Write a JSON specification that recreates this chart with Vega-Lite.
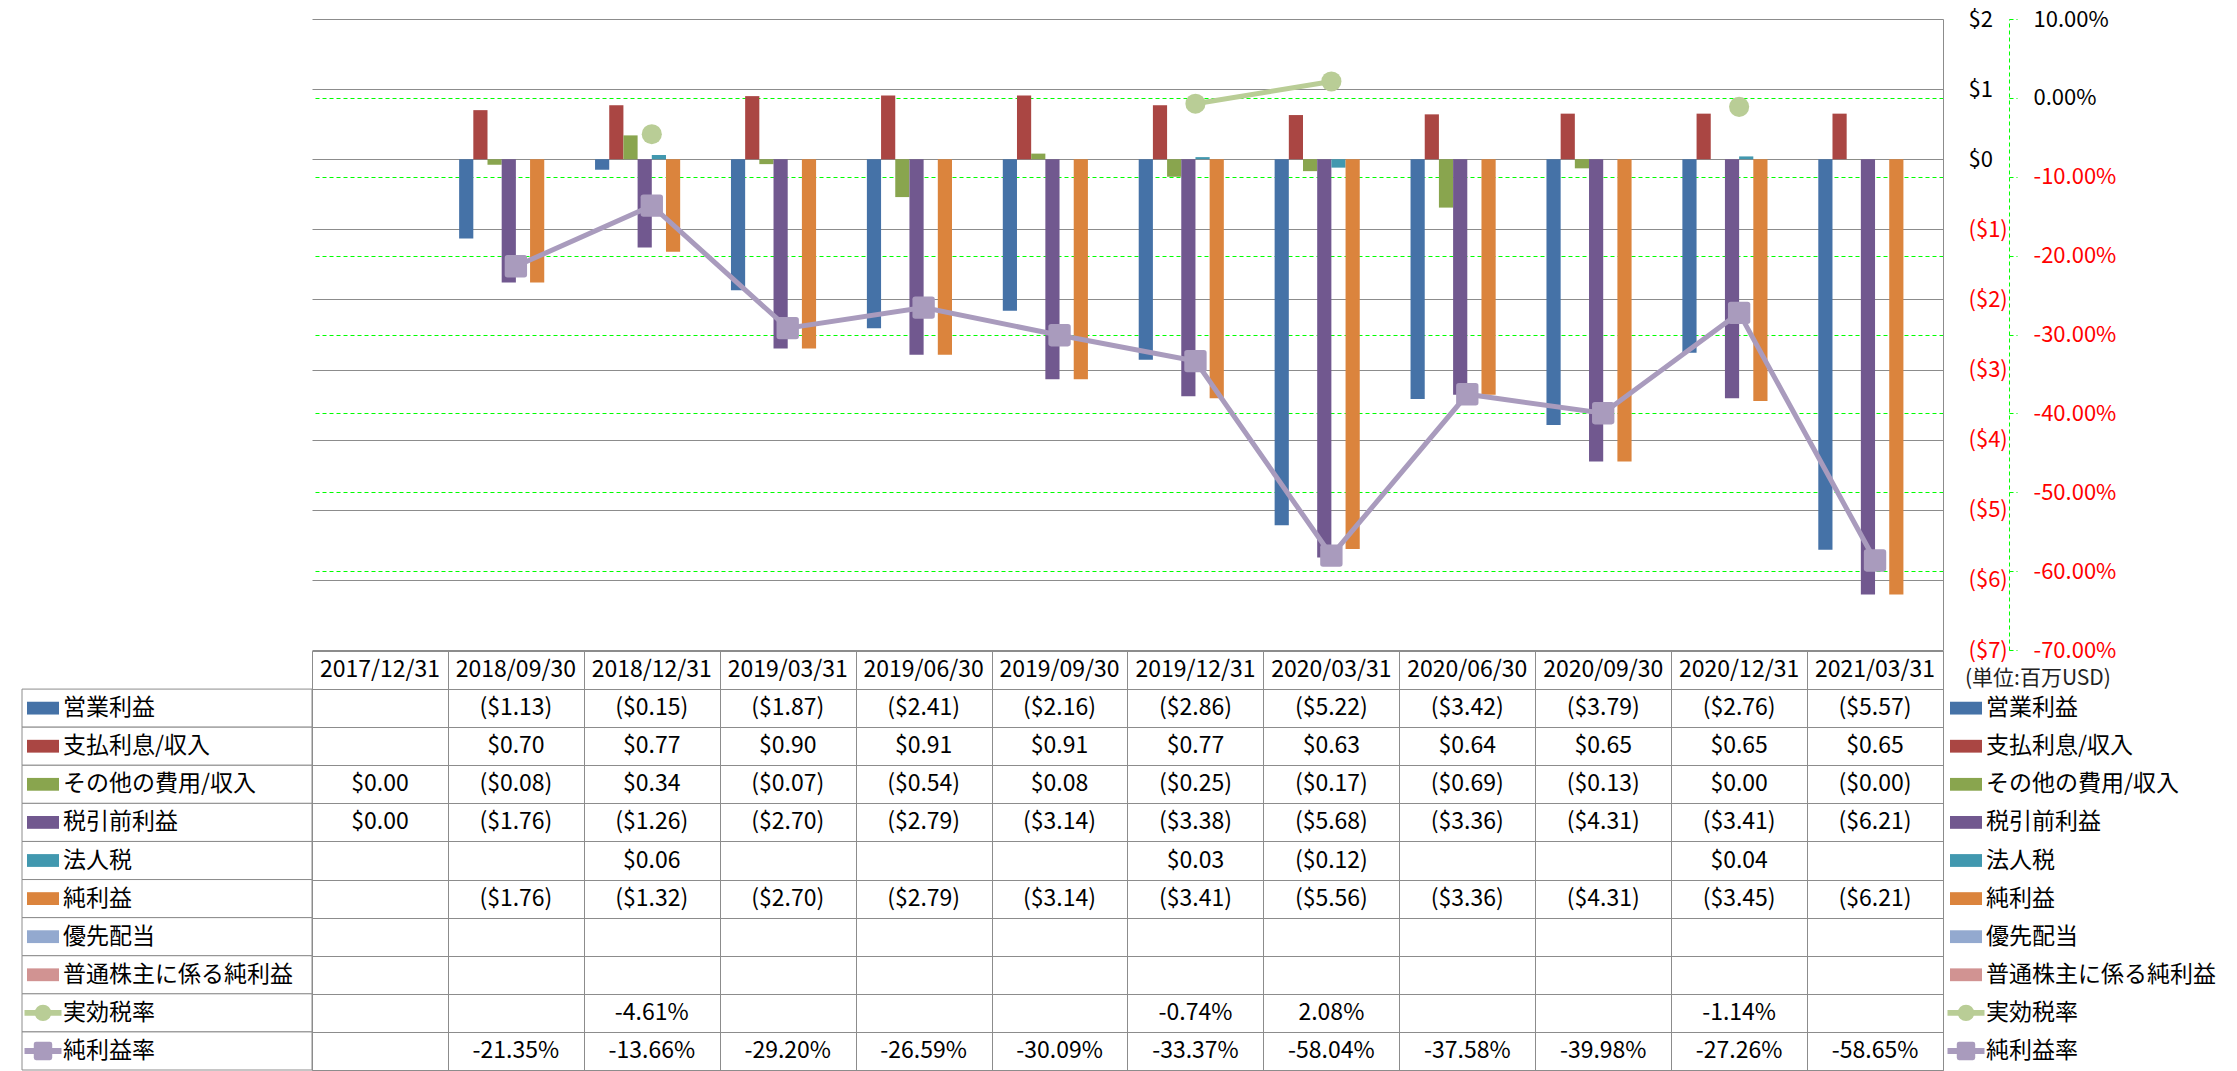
{
  "$schema": "https://vega.github.io/schema/vega-lite/v6.json",
  "padding": {"left": 21, "top": 8, "right": 0, "bottom": 0},
  "background": "white",
  "config": {
    "font": "Noto Sans CJK JP",
    "view": {"stroke": null},
    "axis": {"labelFont": "Noto Sans CJK JP"},
    "text": {"font": "Noto Sans CJK JP"}
  },
  "datasets": {
    "main": [
      {"date": "2017/12/31", "series": "その他の費用/収入", "value": 0},
      {"date": "2017/12/31", "series": "税引前利益", "value": 0},
      {"date": "2018/09/30", "series": "営業利益", "value": -1.13},
      {"date": "2018/09/30", "series": "支払利息/収入", "value": 0.70},
      {"date": "2018/09/30", "series": "その他の費用/収入", "value": -0.08},
      {"date": "2018/09/30", "series": "税引前利益", "value": -1.76},
      {"date": "2018/09/30", "series": "純利益", "value": -1.76},
      {"date": "2018/09/30", "series": "純利益率", "value": -0.2135},
      {"date": "2018/12/31", "series": "営業利益", "value": -0.15},
      {"date": "2018/12/31", "series": "支払利息/収入", "value": 0.77},
      {"date": "2018/12/31", "series": "その他の費用/収入", "value": 0.34},
      {"date": "2018/12/31", "series": "税引前利益", "value": -1.26},
      {"date": "2018/12/31", "series": "法人税", "value": 0.06},
      {"date": "2018/12/31", "series": "純利益", "value": -1.32},
      {"date": "2018/12/31", "series": "実効税率", "value": -0.0461},
      {"date": "2018/12/31", "series": "純利益率", "value": -0.1366},
      {"date": "2019/03/31", "series": "営業利益", "value": -1.87},
      {"date": "2019/03/31", "series": "支払利息/収入", "value": 0.90},
      {"date": "2019/03/31", "series": "その他の費用/収入", "value": -0.07},
      {"date": "2019/03/31", "series": "税引前利益", "value": -2.70},
      {"date": "2019/03/31", "series": "純利益", "value": -2.70},
      {"date": "2019/03/31", "series": "実効税率", "value": null},
      {"date": "2019/03/31", "series": "純利益率", "value": -0.2920},
      {"date": "2019/06/30", "series": "営業利益", "value": -2.41},
      {"date": "2019/06/30", "series": "支払利息/収入", "value": 0.91},
      {"date": "2019/06/30", "series": "その他の費用/収入", "value": -0.54},
      {"date": "2019/06/30", "series": "税引前利益", "value": -2.79},
      {"date": "2019/06/30", "series": "純利益", "value": -2.79},
      {"date": "2019/06/30", "series": "実効税率", "value": null},
      {"date": "2019/06/30", "series": "純利益率", "value": -0.2659},
      {"date": "2019/09/30", "series": "営業利益", "value": -2.16},
      {"date": "2019/09/30", "series": "支払利息/収入", "value": 0.91},
      {"date": "2019/09/30", "series": "その他の費用/収入", "value": 0.08},
      {"date": "2019/09/30", "series": "税引前利益", "value": -3.14},
      {"date": "2019/09/30", "series": "純利益", "value": -3.14},
      {"date": "2019/09/30", "series": "実効税率", "value": null},
      {"date": "2019/09/30", "series": "純利益率", "value": -0.3009},
      {"date": "2019/12/31", "series": "営業利益", "value": -2.86},
      {"date": "2019/12/31", "series": "支払利息/収入", "value": 0.77},
      {"date": "2019/12/31", "series": "その他の費用/収入", "value": -0.25},
      {"date": "2019/12/31", "series": "税引前利益", "value": -3.38},
      {"date": "2019/12/31", "series": "法人税", "value": 0.03},
      {"date": "2019/12/31", "series": "純利益", "value": -3.41},
      {"date": "2019/12/31", "series": "実効税率", "value": -0.0074},
      {"date": "2019/12/31", "series": "純利益率", "value": -0.3337},
      {"date": "2020/03/31", "series": "営業利益", "value": -5.22},
      {"date": "2020/03/31", "series": "支払利息/収入", "value": 0.63},
      {"date": "2020/03/31", "series": "その他の費用/収入", "value": -0.17},
      {"date": "2020/03/31", "series": "税引前利益", "value": -5.68},
      {"date": "2020/03/31", "series": "法人税", "value": -0.12},
      {"date": "2020/03/31", "series": "純利益", "value": -5.56},
      {"date": "2020/03/31", "series": "実効税率", "value": 0.0208},
      {"date": "2020/03/31", "series": "純利益率", "value": -0.5804},
      {"date": "2020/06/30", "series": "営業利益", "value": -3.42},
      {"date": "2020/06/30", "series": "支払利息/収入", "value": 0.64},
      {"date": "2020/06/30", "series": "その他の費用/収入", "value": -0.69},
      {"date": "2020/06/30", "series": "税引前利益", "value": -3.36},
      {"date": "2020/06/30", "series": "純利益", "value": -3.36},
      {"date": "2020/06/30", "series": "実効税率", "value": null},
      {"date": "2020/06/30", "series": "純利益率", "value": -0.3758},
      {"date": "2020/09/30", "series": "営業利益", "value": -3.79},
      {"date": "2020/09/30", "series": "支払利息/収入", "value": 0.65},
      {"date": "2020/09/30", "series": "その他の費用/収入", "value": -0.13},
      {"date": "2020/09/30", "series": "税引前利益", "value": -4.31},
      {"date": "2020/09/30", "series": "純利益", "value": -4.31},
      {"date": "2020/09/30", "series": "実効税率", "value": null},
      {"date": "2020/09/30", "series": "純利益率", "value": -0.3998},
      {"date": "2020/12/31", "series": "営業利益", "value": -2.76},
      {"date": "2020/12/31", "series": "支払利息/収入", "value": 0.65},
      {"date": "2020/12/31", "series": "その他の費用/収入", "value": 0.0},
      {"date": "2020/12/31", "series": "税引前利益", "value": -3.41},
      {"date": "2020/12/31", "series": "法人税", "value": 0.04},
      {"date": "2020/12/31", "series": "純利益", "value": -3.45},
      {"date": "2020/12/31", "series": "実効税率", "value": -0.0114},
      {"date": "2020/12/31", "series": "純利益率", "value": -0.2726},
      {"date": "2021/03/31", "series": "営業利益", "value": -5.57},
      {"date": "2021/03/31", "series": "支払利息/収入", "value": 0.65},
      {"date": "2021/03/31", "series": "その他の費用/収入", "value": -0.001},
      {"date": "2021/03/31", "series": "税引前利益", "value": -6.21},
      {"date": "2021/03/31", "series": "純利益", "value": -6.21},
      {"date": "2021/03/31", "series": "純利益率", "value": -0.5865}
    ],
    "rows": [
      {"series": "営業利益"}, {"series": "支払利息/収入"}, {"series": "その他の費用/収入"}, {"series": "税引前利益"}, {"series": "法人税"},
      {"series": "純利益"}, {"series": "優先配当"}, {"series": "普通株主に係る純利益"}, {"series": "実効税率"}, {"series": "純利益率"}
    ],
    "dates": [
      {"date": "2017/12/31"}, {"date": "2018/09/30"}, {"date": "2018/12/31"}, {"date": "2019/03/31"}, {"date": "2019/06/30"}, {"date": "2019/09/30"},
      {"date": "2019/12/31"}, {"date": "2020/03/31"}, {"date": "2020/06/30"}, {"date": "2020/09/30"}, {"date": "2020/12/31"}, {"date": "2021/03/31"}
    ]
  },
  "bounds": "flush",
  "align": "each",
  "columns": 3,
  "spacing": {"row": 1, "column": 0},
  "concat": [
    {"width": 290, "height": 631, "data": {"values": []}, "mark": "point"},
    {
      "width": 1631,
      "height": 631,
      "layer": [
        {
          "data": {"name": "main"},
          "transform": [
            {"filter": {"field": "series", "oneOf": ["営業利益", "支払利息/収入", "その他の費用/収入", "税引前利益", "法人税", "純利益"]}},
            {"filter": "datum.value != null"}
          ],
          "mark": {"type": "bar"},
          "encoding": {
            "x": {"field": "date", "type": "nominal", "axis": null,
              "scale": {"type": "band", "domain": ["2017/12/31", "2018/09/30", "2018/12/31", "2019/03/31", "2019/06/30", "2019/09/30", "2019/12/31", "2020/03/31", "2020/06/30", "2020/09/30", "2020/12/31", "2021/03/31"], "paddingInner": 0.165, "paddingOuter": 0.0825}},
            "xOffset": {"field": "series", "type": "nominal",
              "scale": {"domain": ["営業利益", "支払利息/収入", "その他の費用/収入", "税引前利益", "法人税", "純利益", "優先配当", "普通株主に係る純利益"], "paddingInner": 0, "paddingOuter": 0}},
            "y": {"field": "value", "type": "quantitative",
              "scale": {"domain": [-7, 2], "nice": false, "zero": false},
              "axis": {
                "orient": "right", "title": null,
                "values": [-7, -6, -5, -4, -3, -2, -1, 0, 1, 2],
                "grid": true, "gridColor": "#8c8c8c", "gridWidth": 1,
                "domain": true, "domainColor": "#8c8c8c", "domainWidth": 1,
                "ticks": false, "tickSize": 0,
                "labelPadding": 25, "labelAlign": "left", "labelBaseline": "middle",
                "labelFontSize": 22, "labelFlush": false, "labelOverlap": false,
                "labelExpr": "datum.value < 0 ? '($' + format(-datum.value, 'd') + ')' : '$' + format(datum.value, 'd')",
                "labelColor": {"condition": {"test": "datum.value < 0", "value": "#ff0000"}, "value": "#000000"}
              }},
            "color": {"field": "series", "type": "nominal", "legend": null,
              "scale": {"domain": ["営業利益", "支払利息/収入", "その他の費用/収入", "税引前利益", "法人税", "純利益", "優先配当", "普通株主に係る純利益", "実効税率", "純利益率"],
                "range": ["#4572A7", "#AA4643", "#89A54E", "#71588F", "#4198AF", "#DB843D", "#93A9CF", "#D19392", "#B9CD96", "#A99BBD"]}}
          }
        },
        {
          "data": {"name": "main"},
          "encoding": {
            "x": {"field": "date", "type": "nominal", "axis": null, "bandPosition": 0.5,
              "scale": {"type": "band", "domain": ["2017/12/31", "2018/09/30", "2018/12/31", "2019/03/31", "2019/06/30", "2019/09/30", "2019/12/31", "2020/03/31", "2020/06/30", "2020/09/30", "2020/12/31", "2021/03/31"], "paddingInner": 0.165, "paddingOuter": 0.0825}},
            "y": {"field": "value", "type": "quantitative",
              "scale": {"domain": [-0.7, 0.1], "nice": false, "zero": false},
              "axis": {
                "orient": "right", "title": null, "offset": 66,
                "values": [-0.7, -0.6, -0.5, -0.4, -0.3, -0.2, -0.1, 0, 0.1],
                "grid": true, "gridColor": "#00ff00", "gridDash": [4, 3], "gridWidth": 1,
                "gridOpacity": {"condition": {"test": "datum.value > 0.05 || datum.value < -0.65", "value": 0}, "value": 1},
                "domain": true, "domainColor": "#00ff00", "domainDash": [4, 3], "domainWidth": 1,
                "ticks": true, "tickColor": "#00ff00", "tickDash": [4, 3], "tickSize": 8,
                "labelPadding": 16, "labelAlign": "left", "labelBaseline": "middle",
                "labelFontSize": 22, "labelFlush": false, "labelOverlap": false,
                "labelExpr": "(datum.value < -0.0001 ? '-' : '') + format(abs(datum.value), '.2%')",
                "labelColor": {"condition": {"test": "datum.value < -0.0001", "value": "#ff0000"}, "value": "#000000"}
              }},
            "color": {"field": "series", "type": "nominal", "legend": null,
              "scale": {"domain": ["営業利益", "支払利息/収入", "その他の費用/収入", "税引前利益", "法人税", "純利益", "優先配当", "普通株主に係る純利益", "実効税率", "純利益率"],
                "range": ["#4572A7", "#AA4643", "#89A54E", "#71588F", "#4198AF", "#DB843D", "#93A9CF", "#D19392", "#B9CD96", "#A99BBD"]}}
          },
          "layer": [
            {"transform": [{"filter": "datum.series == '純利益率'"}], "mark": {"type": "line", "strokeWidth": 5}},
            {"transform": [{"filter": "datum.series == '純利益率' && datum.value != null"}],
              "mark": {"type": "point", "shape": "M-0.75,-1H0.75Q1,-1,1,-0.75V0.75Q1,1,0.75,1H-0.75Q-1,1,-1,0.75V-0.75Q-1,-1,-0.75,-1Z", "size": 500, "filled": true, "opacity": 1}},
            {"transform": [{"filter": "datum.series == '実効税率'"}], "mark": {"type": "line", "strokeWidth": 5}},
            {"transform": [{"filter": "datum.series == '実効税率' && datum.value != null"}],
              "mark": {"type": "point", "shape": "circle", "size": 405, "filled": true, "opacity": 1}}
          ]
        }
      ],
      "resolve": {"scale": {"y": "independent"}, "axis": {"y": "independent"}}
    },
    {"width": 290, "height": 631, "data": {"values": []}, "mark": "point"},
    {
      "width": 290,
      "height": 419,
      "data": {"name": "rows"},
      "encoding": {
        "y": {"field": "series", "type": "nominal", "axis": null, "bandPosition": 0.5,
          "scale": {"type": "band", "domain": ["header", "営業利益", "支払利息/収入", "その他の費用/収入", "税引前利益", "法人税", "純利益", "優先配当", "普通株主に係る純利益", "実効税率", "純利益率"], "paddingInner": 0, "paddingOuter": 0}},
        "color": {"field": "series", "type": "nominal", "legend": null,
          "scale": {"domain": ["営業利益", "支払利息/収入", "その他の費用/収入", "税引前利益", "法人税", "純利益", "優先配当", "普通株主に係る純利益", "実効税率", "純利益率"],
            "range": ["#4572A7", "#AA4643", "#89A54E", "#71588F", "#4198AF", "#DB843D", "#93A9CF", "#D19392", "#B9CD96", "#A99BBD"]}}
      },
      "layer": [
        {"mark": {"type": "rect", "fill": "white", "stroke": "#8c8c8c", "strokeWidth": 1},
          "encoding": {"color": {"value": "white"}, "y": {"field": "series", "type": "nominal"}}},
        {"transform": [{"filter": {"field": "series", "oneOf": ["営業利益", "支払利息/収入", "その他の費用/収入", "税引前利益", "法人税", "純利益", "優先配当", "普通株主に係る純利益"]}}],
          "mark": {"type": "point", "shape": "M-1,-0.4H1V0.4H-1Z", "size": 1024, "filled": true, "opacity": 1, "xOffset": -124}},
        {"transform": [{"filter": {"field": "series", "oneOf": ["実効税率", "純利益率"]}}],
          "mark": {"type": "point", "shape": "M-1,-0.16H1V0.16H-1Z", "size": 1369, "filled": true, "opacity": 1, "xOffset": -124}},
        {"transform": [{"filter": "datum.series == '実効税率'"}],
          "mark": {"type": "point", "shape": "circle", "size": 270, "filled": true, "opacity": 1, "xOffset": -124}},
        {"transform": [{"filter": "datum.series == '純利益率'"}],
          "mark": {"type": "point", "shape": "M-0.75,-1H0.75Q1,-1,1,-0.75V0.75Q1,1,0.75,1H-0.75Q-1,1,-1,0.75V-0.75Q-1,-1,-0.75,-1Z", "size": 340, "filled": true, "opacity": 1, "xOffset": -124}},
        {"mark": {"type": "text", "align": "left", "baseline": "middle", "dx": -104, "fontSize": 23},
          "encoding": {"text": {"field": "series"}, "color": {"value": "#000000"}}}
      ]
    },
    {
      "width": 1631,
      "height": 419,
      "view": {"stroke": "#8c8c8c"},
      "encoding": {
        "x": {"field": "date", "type": "nominal", "bandPosition": 0.5,
          "scale": {"type": "band", "domain": ["2017/12/31", "2018/09/30", "2018/12/31", "2019/03/31", "2019/06/30", "2019/09/30", "2019/12/31", "2020/03/31", "2020/06/30", "2020/09/30", "2020/12/31", "2021/03/31"], "paddingInner": 0, "paddingOuter": 0},
          "axis": {"orient": "top", "title": null, "labels": false, "ticks": false, "domain": false, "grid": true, "tickBand": "extent", "gridColor": "#8c8c8c", "gridWidth": 1}}
      },
      "layer": [
        {
          "data": {"name": "dates"},
          "mark": {"type": "text", "fontSize": 23, "baseline": "middle", "color": "#000000"},
          "encoding": {
            "y": {"datum": "header", "type": "nominal", "bandPosition": 0.5,
              "scale": {"type": "band", "domain": ["header", "営業利益", "支払利息/収入", "その他の費用/収入", "税引前利益", "法人税", "純利益", "優先配当", "普通株主に係る純利益", "実効税率", "純利益率"], "paddingInner": 0, "paddingOuter": 0},
              "axis": {"orient": "left", "title": null, "labels": false, "ticks": false, "domain": false, "grid": true, "tickBand": "extent", "gridColor": "#8c8c8c", "gridWidth": 1}},
            "text": {"field": "date"}
          }
        },
        {
          "data": {"name": "main"},
          "transform": [
            {"filter": "datum.value != null"},
            {"calculate": "indexof(['実効税率','純利益率'], datum.series) >= 0 ? (datum.value < 0 ? '-' : '') + format(abs(datum.value), '.2%') : (datum.value < 0 ? '($' + format(-datum.value, '.2f') + ')' : '$' + format(datum.value, '.2f'))", "as": "label"}
          ],
          "mark": {"type": "text", "fontSize": 23, "baseline": "middle", "color": "#000000"},
          "encoding": {
            "y": {"field": "series", "type": "nominal", "bandPosition": 0.5,
              "scale": {"type": "band", "domain": ["header", "営業利益", "支払利息/収入", "その他の費用/収入", "税引前利益", "法人税", "純利益", "優先配当", "普通株主に係る純利益", "実効税率", "純利益率"], "paddingInner": 0, "paddingOuter": 0},
              "axis": {"orient": "left", "title": null, "labels": false, "ticks": false, "domain": false, "grid": true, "tickBand": "extent", "gridColor": "#8c8c8c", "gridWidth": 1}},
            "text": {"field": "label"}
          }
        }
      ]
    },
    {
      "width": 290,
      "height": 419,
      "data": {"name": "rows"},
      "encoding": {
        "y": {"field": "series", "type": "nominal", "axis": null, "bandPosition": 0.5,
          "scale": {"type": "band", "domain": ["header", "営業利益", "支払利息/収入", "その他の費用/収入", "税引前利益", "法人税", "純利益", "優先配当", "普通株主に係る純利益", "実効税率", "純利益率"], "paddingInner": 0, "paddingOuter": 0}},
        "color": {"field": "series", "type": "nominal", "legend": null,
          "scale": {"domain": ["営業利益", "支払利息/収入", "その他の費用/収入", "税引前利益", "法人税", "純利益", "優先配当", "普通株主に係る純利益", "実効税率", "純利益率"],
            "range": ["#4572A7", "#AA4643", "#89A54E", "#71588F", "#4198AF", "#DB843D", "#93A9CF", "#D19392", "#B9CD96", "#A99BBD"]}}
      },
      "layer": [
        {"transform": [{"filter": {"field": "series", "oneOf": ["営業利益", "支払利息/収入", "その他の費用/収入", "税引前利益", "法人税", "純利益", "優先配当", "普通株主に係る純利益"]}}],
          "mark": {"type": "point", "shape": "M-1,-0.4H1V0.4H-1Z", "size": 1024, "filled": true, "opacity": 1, "xOffset": -122}},
        {"transform": [{"filter": {"field": "series", "oneOf": ["実効税率", "純利益率"]}}],
          "mark": {"type": "point", "shape": "M-1,-0.16H1V0.16H-1Z", "size": 1369, "filled": true, "opacity": 1, "xOffset": -122}},
        {"transform": [{"filter": "datum.series == '実効税率'"}],
          "mark": {"type": "point", "shape": "circle", "size": 270, "filled": true, "opacity": 1, "xOffset": -122}},
        {"transform": [{"filter": "datum.series == '純利益率'"}],
          "mark": {"type": "point", "shape": "M-0.75,-1H0.75Q1,-1,1,-0.75V0.75Q1,1,0.75,1H-0.75Q-1,1,-1,0.75V-0.75Q-1,-1,-0.75,-1Z", "size": 340, "filled": true, "opacity": 1, "xOffset": -122}},
        {"mark": {"type": "text", "align": "left", "baseline": "middle", "dx": -102, "fontSize": 23},
          "encoding": {"text": {"field": "series"}, "color": {"value": "#000000"}}},
        {"data": {"values": [{}]},
          "mark": {"type": "text", "text": "(単位:百万USD)", "align": "left", "baseline": "middle", "dx": -123, "dy": 9, "fontSize": 21, "color": "#222222"},
          "encoding": {"y": {"datum": "header", "type": "nominal", "bandPosition": 0.5}, "color": {"value": "#222222"}}}
      ]
    }
  ]
}
